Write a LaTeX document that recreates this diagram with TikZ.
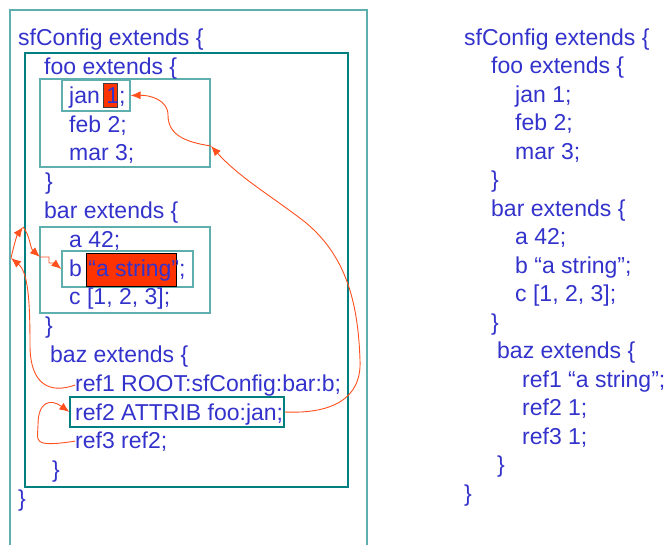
\documentclass[tikz,border=0pt]{standalone}
\usepackage{fontspec}
\setmainfont{Liberation Sans}
\usetikzlibrary{positioning,arrows.meta}
\definecolor{codeblue}{RGB}{51,51,204}
\definecolor{boxteal}{RGB}{0,128,128}
\definecolor{lightteal}{RGB}{95,175,175}
\definecolor{hired}{RGB}{255,51,0}
\definecolor{linkred}{RGB}{255,80,30}

\begin{document}
\begin{tikzpicture}[x=1pt,y=-1pt,
		txt/.style={anchor=base west,inner sep=0pt,text=codeblue,font=\fontsize{23}{28}\selectfont},
		frame/.style={draw=lightteal,line width=1.2pt,inner sep=0pt},
		darkframe/.style={frame,draw=boxteal},
		hilite/.style={fill=hired,draw=black!75,line width=1pt,inner sep=0pt},
		link/.style={draw=linkred,line width=0.9pt,-{Latex[length=10pt,width=8pt]}}]
		\clip (0,0) rectangle (669,544);

		% frames
		\node[frame,minimum width=357pt,minimum height=560pt]		(sfbox)		at (188.5,290)	{};
		\node[darkframe,minimum width=323pt,minimum height=434pt]	(bodybox)	at (186.5,270)	{};
		\node[frame,minimum width=170pt,minimum height=88pt]		(foobox)	at (125,123)	{};
		\node[frame,minimum width=68pt,minimum height=31pt]		(janbox)	at (96,95.5)	{};
		\node[frame,minimum width=170pt,minimum height=86pt]		(barbox)	at (125,270)	{};
		\node[frame,minimum width=131pt,minimum height=36pt]		(bbox)		at (127.5,269)	{};
		\node[darkframe,minimum width=214pt,minimum height=30pt]	(ref2box)	at (177,412)	{};
		\node[hilite,minimum width=14pt,minimum height=24pt]		(hlone)		at (110,95)		{};
		\node[hilite,draw=black,minimum width=90pt,minimum height=33pt]	(hlstr)	at (131,269.5)	{};

		% left column
		\node[txt]	(sfcfg)		at (18,45)		{sfConfig extends \{};
		\node[txt]	(foo)		at (44,74)		{foo extends \{};
		\node[txt]	(jan)		at (69,103)		{jan 1;};
		\node[txt]	(feb)		at (69,132)		{feb 2;};
		\node[txt]	(mar)		at (69,160)		{mar 3;};
		\node[txt]	(fooend)	at (45,189)		{\}};
		\node[txt]	(bar)		at (44,218)		{bar extends \{};
		\node[txt]	(a)			at (69,247)		{a 42;};
		\node[txt]	(b)			at (69,276)		{b “a string”;};
		\node[txt]	(c)			at (69,304)		{c [1, 2, 3];};
		\node[txt]	(barend)	at (45,333)		{\}};
		\node[txt]	(baz)		at (50,362)		{baz extends \{};
		\node[txt]	(ref1)		at (75,391)		{ref1 ROOT:sfConfig:bar:b;};
		\node[txt]	(ref2)		at (75,420)		{ref2 ATTRIB foo:jan;};
		\node[txt]	(ref3)		at (75,448)		{ref3 ref2;};
		\node[txt]	(bazend)	at (52,477)		{\}};
		\node[txt]	(sfend)		at (18,506)		{\}};

		% right column
		\node[txt]	(rsfcfg)	at (464,45)		{sfConfig extends \{};
		\node[txt]	(rfoo)		at (491,73.5)	{foo extends \{};
		\node[txt]	(rjan)		at (515,102)	{jan 1;};
		\node[txt]	(rfeb)		at (515,130.5)	{feb 2;};
		\node[txt]	(rmar)		at (515,159)	{mar 3;};
		\node[txt]	(rfooend)	at (491,187.5)	{\}};
		\node[txt]	(rbar)		at (491,216)	{bar extends \{};
		\node[txt]	(ra)		at (515,244.5)	{a 42;};
		\node[txt]	(rb)		at (515,273)	{b “a string”;};
		\node[txt]	(rc)		at (515,301.5)	{c [1, 2, 3];};
		\node[txt]	(rbarend)	at (491,330)	{\}};
		\node[txt]	(rbaz)		at (497,358.5)	{baz extends \{};
		\node[txt]	(rref1)		at (522,387)	{ref1 “a string”;};
		\node[txt]	(rref2)		at (522,415.5)	{ref2 1;};
		\node[txt]	(rref3)		at (522,444)	{ref3 1;};
		\node[txt]	(rbazend)	at (497,472.5)	{\}};
		\node[txt]	(rsfend)	at (464,501)	{\}};

		% reference links
		\coordinate	(foohit)	at (211,146);
		\coordinate	(sfhit)		at (11,258);
		\coordinate	(bodyhit)	at (23,227);
		\coordinate	(barhit)	at (40,257);

		\draw[link] (ref2box.east) .. controls (330,414) and (362,400) .. (360,360) .. controls (358,300) and (345,255) .. (305,222) .. controls (270,195) and (240,178) .. (foohit);
		\draw[link] (foohit) .. controls (185,142) and (168,135) .. (168,115) .. controls (168,100) and (150,95) .. (janbox.east);
		\draw[link] (ref1.west) .. controls (50,394) and (30,385) .. (30,345) .. controls (30,300) and (28,272) .. (sfhit);
		\draw[link] (sfhit) .. controls (14,245) and (17,235) .. (bodyhit);
		\draw[link] (bodyhit) .. controls (30,235) and (30,248) .. (barhit);
		\draw[link] (barhit) -- (49,257) -- (49,263) -- (54,263) -- (bbox.west);
		\draw[link] (ref3.west) .. controls (30,448) and (38,440) .. (38,425) .. controls (38,402) and (50,398) .. (ref2box.west);
	\end{tikzpicture}
\end{document}
